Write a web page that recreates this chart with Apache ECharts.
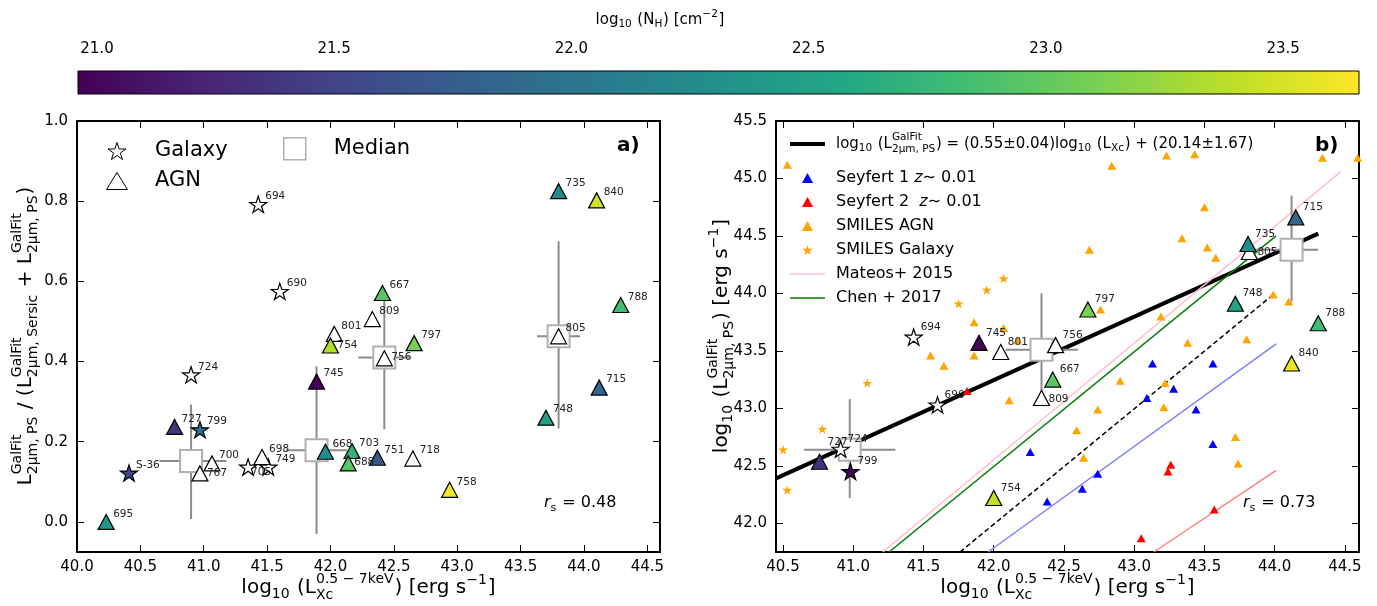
<!DOCTYPE html>
<html>
<head>
<meta charset="utf-8">
<script src="https://cdn.jsdelivr.net/npm/echarts@6/dist/echarts.min.js"></script>
<style>
  html, body { margin: 0; padding: 0; background: #fff; }
  #chart { width: 1377px; height: 606px; }
</style>
</head>
<body>
<div id="chart"></div>
<script>
// ---------- data ----------
// panel a): [log Lx, PS fraction, (log NH), id]
const leftGalaxyWhite = [[41.43, 0.792, '694'], [41.60, 0.575, '690'], [40.90, 0.367, '724'], [41.35, 0.137, '705'], [41.51, 0.137, '749']]
const leftGalaxyNH = [[40.41, 0.122, 21.55, 'S-36'], [40.97, 0.230, 21.95, '799']]
const leftAgnWhite = [[41.46, 0.162, '698'], [41.065, 0.146, '700'], [40.97, 0.121, '767'], [42.03, 0.469, '801'],
  [42.33, 0.506, '809'], [42.425, 0.408, '756'], [43.80, 0.463, '805'], [42.65, 0.158, '718']]
const leftAgnNH = [[40.23, 0.0, 22.4, '695'], [40.77, 0.237, 21.35, '727'], [41.89, 0.350, 20.98, '745'],
  [42.0, 0.44, 23.35, '754'], [41.96, 0.175, 22.3, '668'], [42.17, 0.177, 22.7, '703'], [42.14, 0.146, 22.95, '688'],
  [42.37, 0.160, 21.7, '751'], [42.41, 0.571, 22.95, '667'], [42.66, 0.446, 23.1, '797'], [42.94, 0.08, 23.62, '758'],
  [43.70, 0.26, 22.5, '748'], [44.12, 0.335, 21.85, '715'], [43.80, 0.825, 22.25, '735'], [44.10, 0.802, 23.48, '840'],
  [44.29, 0.541, 22.82, '788']]
// medians: [x, y, xlow, xhigh, ylow, yhigh]
const leftMedians = [[40.90, 0.152, 40.65, 41.18, 0.007, 0.293], [41.89, 0.179, 41.65, 42.13, -0.03, 0.388],
  [42.425, 0.41, 42.22, 42.63, 0.231, 0.574], [43.80, 0.463, 43.63, 43.97, 0.233, 0.70]]

// panel b): [log Lx, log L2um PS, (log NH), id]
const rightGalaxyWhite = [[41.43, 43.62, '694'], [41.60, 43.03, '690'], [40.91, 42.645, '724']]
const rightGalaxyNH = [[40.98, 42.45, 21.0, '799']]
const rightAgnWhite = [[42.05, 43.49, '801'], [42.44, 43.55, '756'], [42.34, 43.09, '809'], [43.82, 44.36, '805']]
const rightAgnNH = [[40.76, 42.535, 21.35, '727'], [41.895, 43.57, 20.98, '745'], [42.0, 42.22, 23.4, '754'],
  [42.42, 43.25, 22.95, '667'], [42.67, 43.86, 23.12, '797'], [43.72, 43.91, 22.5, '748'], [43.81, 44.43, 22.28, '735'],
  [44.15, 44.66, 21.85, '715'], [44.31, 43.74, 22.82, '788'], [44.12, 43.39, 23.58, '840']]
const rightMedians = [[40.975, 42.64, 40.65, 41.30, 42.22, 43.08], [42.34, 43.51, 42.085, 42.60, 43.10, 44.0],
  [44.12, 44.38, 43.85, 44.31, 43.93, 44.85]]

const seyfert1 = [[42.26, 42.62], [43.13, 43.39], [43.56, 43.39], [43.28, 43.17], [43.09, 43.09], [43.44, 42.99],
  [43.56, 42.69], [42.74, 42.43], [42.63, 42.30], [42.38, 42.19]]
const seyfert2 = [[41.81, 43.15], [43.26, 42.51], [43.24, 42.45], [43.57, 42.12], [43.05, 41.87]]
const smilesAgn = [[40.53, 45.12], [41.86, 43.75], [42.07, 43.70], [41.55, 43.46], [41.86, 43.46], [41.645, 43.37],
  [42.17, 43.59], [42.11, 43.07], [42.84, 45.11], [43.23, 45.20], [43.43, 45.21], [44.34, 45.18], [44.59, 45.18],
  [43.50, 44.75], [43.34, 44.48], [43.52, 44.40], [43.58, 44.31], [42.68, 44.38], [42.76, 43.86], [43.99, 43.99],
  [44.10, 43.93], [43.19, 43.80], [43.38, 43.57], [43.80, 43.60], [42.90, 43.24], [43.22, 43.22], [42.74, 42.99],
  [43.21, 43.01], [42.59, 42.81], [42.64, 42.57], [43.72, 42.75], [43.74, 42.52]]
const smilesGalaxy = [[41.75, 43.91], [41.95, 44.03], [42.07, 44.13], [41.10, 43.22], [40.78, 42.82], [40.50, 42.64], [40.53, 42.29]]

// relations drawn in panel b) (end points)
const fitLine = [[40.45, 42.39], [44.31, 44.52]]
const mateosLine = [[41.21, 41.75], [44.47, 45.06]]
const chenLine = [[41.255, 41.75], [44.01, 44.50]]
const dashedLine = [[41.76, 41.75], [43.98, 43.98]]
const blueLine = [[41.96, 41.75], [44.01, 43.56]]
const redLine = [[43.14, 41.75], [44.01, 42.46]]

// tick labels
const xTicks = [40.0, 40.5, 41.0, 41.5, 42.0, 42.5, 43.0, 43.5, 44.0, 44.5]
const xTicksRight = [40.5, 41.0, 41.5, 42.0, 42.5, 43.0, 43.5, 44.0, 44.5]
const yTicksLeft = [0.0, 0.2, 0.4, 0.6, 0.8, 1.0]
const yTicksRight = [42.0, 42.5, 43.0, 43.5, 44.0, 44.5, 45.0, 45.5]
const nhTicks = [21.0, 21.5, 22.0, 22.5, 23.0, 23.5]

const viridis = ['#440154', '#482475', '#414487', '#355f8d', '#2a788e', '#21918c', '#22a884', '#44bf70', '#7ad151', '#bddf26', '#fde725']
const NH_MIN = 20.96, NH_MAX = 23.66

// label tweaks where the id sits somewhere other than upper right
const labelNudge = {
  L756: [7, -1], L754: [7, 0], L767: [7, 0], L705: [3, 5], L688: [6, -1],
  R809: [7, 1], R805: [8, 0], R727: [8, -20]
}

const FONT = 'DejaVu Sans'
const STAR = 'path://M0,-1L0.2245,-0.309L0.951,-0.309L0.363,0.118L0.588,0.809L0,0.382L-0.588,0.809L-0.363,0.118L-0.951,-0.309L-0.2245,-0.309Z'
// legend glyphs (paths keep their aspect inside the legend box)
const TRI_BIG = 'path://M0,13L8,0L16,13Z'
const TRI_SMALL = 'path://M0,9L5,0L10,9Z'
const SQUARE = 'path://M0,0L10,0L10,10L0,10Z'
const THICK_LINE = 'path://M0,0L35,0L35,4L0,4Z'
const THIN_LINE = 'path://M0,0L35,0L35,1.5L0,1.5Z'

// ---------- text helpers (mathtext-like sub/superscripts) ----------
const measureCtx = document.createElement('canvas').getContext('2d')
function measure(s, size, style) {
  measureCtx.font = (style || 'normal') + ' ' + size + 'px "' + FONT + '"'
  return measureCtx.measureText(s).width
}
function piece(s, x, y, size, style, weight) {
  return {
    type: 'text', x: x, y: y,
    style: { text: s, fontSize: size, fontFamily: FONT, fontStyle: style || 'normal', fontWeight: weight || 'normal',
      fill: '#000', align: 'left', verticalAlign: 'middle' }
  }
}
function mathText(parts, size, x, y, opts) {
  opts = opts || {}
  const small = size * 0.7
  const kids = []
  let cx = 0
  parts.forEach(p => {
    if (typeof p === 'string') {
      kids.push(piece(p, cx, 0, size, 'normal', opts.weight))
      cx += measure(p, size, opts.weight)
      return
    }
    if (p.it) {
      kids.push(piece(p.it, cx, 0, size, 'italic'))
      cx += measure(p.it, size, 'italic')
      return
    }
    const both = p.sup && p.sub
    let w = 0
    if (p.sup) {
      kids.push(piece(p.sup, cx, -size * (both ? 0.42 : 0.36), small))
      w = Math.max(w, measure(p.sup, small))
    }
    if (p.sub) {
      kids.push(piece(p.sub, cx, size * (both ? 0.36 : 0.3), small))
      w = Math.max(w, measure(p.sub, small))
    }
    cx += w + size * 0.05
  })
  if (opts.anchor !== 'left') kids.forEach(k => { k.x -= cx / 2 })
  return { type: 'group', x: x, y: y, rotation: opts.rotation || 0, children: kids, z: 100 }
}

// ---------- series builders ----------
function items(rows, hasNH, panel) {
  return rows.map(r => {
    const id = r[r.length - 1]
    const it = { name: id, value: hasNH ? [r[0], r[1], r[2]] : [r[0], r[1]] }
    const nudge = labelNudge[panel + id]
    if (nudge) it.label = { offset: nudge }
    return it
  })
}
function marks(name, rows, panel, symbol, size, fill, hasNH) {
  const ax = panel === 'L' ? 0 : 2
  return {
    type: 'scatter', name: name, xAxisIndex: ax, yAxisIndex: ax,
    data: items(rows, hasNH, panel),
    symbol: symbol, symbolSize: size, symbolKeepAspect: symbol === STAR,
    itemStyle: Object.assign({ borderColor: '#000', borderWidth: 1.2, opacity: 1 }, fill ? { color: fill } : {}),
    label: {
      show: true, formatter: '{b}', position: 'inside', align: 'left', verticalAlign: 'middle',
      offset: panel === 'L' ? [7, -8] : [7, -10], fontSize: 10.5, fontFamily: FONT, color: '#222', textBorderWidth: 0
    },
    emphasis: { disabled: true }, z: 5
  }
}
function errorBars(rows, ax) {
  return {
    type: 'custom', xAxisIndex: ax, yAxisIndex: ax, data: rows, z: 3, silent: true,
    encode: { x: [0, 2, 3], y: [1, 4, 5] },
    renderItem: (params, api) => {
      const a = api.coord([api.value(2), api.value(1)])
      const b = api.coord([api.value(3), api.value(1)])
      const c = api.coord([api.value(0), api.value(4)])
      const d = api.coord([api.value(0), api.value(5)])
      const st = { stroke: '#8c8c8c', lineWidth: 2 }
      return {
        type: 'group', children: [
          { type: 'line', shape: { x1: a[0], y1: a[1], x2: b[0], y2: b[1] }, style: st },
          { type: 'line', shape: { x1: c[0], y1: c[1], x2: d[0], y2: d[1] }, style: st }
        ]
      }
    }
  }
}
function medians(rows, ax) {
  return {
    type: 'scatter', name: 'Median', xAxisIndex: ax, yAxisIndex: ax,
    data: rows.map(r => [r[0], r[1]]), symbol: 'rect', symbolSize: 22,
    itemStyle: { color: '#fff', borderColor: '#b0b0b0', borderWidth: 2, opacity: 1 },
    emphasis: { disabled: true }, z: 4
  }
}
function small(name, rows, symbol, size, color) {
  return {
    type: 'scatter', name: name, xAxisIndex: 2, yAxisIndex: 2, data: rows,
    symbol: symbol, symbolSize: size, symbolKeepAspect: symbol === STAR,
    itemStyle: { color: color, opacity: 1 }, emphasis: { disabled: true }, z: 3
  }
}
function line(name, pts, color, width, type) {
  return {
    type: 'line', name: name, xAxisIndex: 2, yAxisIndex: 2, data: pts, symbol: 'none',
    lineStyle: { color: color, width: width, type: type || 'solid' }, itemStyle: { color: color },
    emphasis: { disabled: true }, z: 2, silent: true
  }
}

const series = []
series.push(errorBars(leftMedians, 0))
series.push(medians(leftMedians, 0))
series.push(marks('Galaxy', leftGalaxyWhite, 'L', STAR, 17, '#fff', false))
series.push(marks('AGN', leftAgnWhite, 'L', 'triangle', [16, 15], '#fff', false))
const colored = []
colored.push(series.push(marks('Galaxy NH', leftGalaxyNH, 'L', STAR, 17, null, true)) - 1)
colored.push(series.push(marks('AGN NH', leftAgnNH, 'L', 'triangle', [16, 15], null, true)) - 1)

series.push(line('fit', fitLine, '#000', 4))
series.push(line('Mateos+ 2015', mateosLine, '#ffc0cb', 1.5))
series.push(line('Chen + 2017', chenLine, '#008000', 1.5))
series.push(line('ratio', dashedLine, '#000', 1.5, [5, 3]))
series.push(line('sey1 rel', blueLine, '#8080ff', 1.5))
series.push(line('sey2 rel', redLine, '#ff8080', 1.5))
series.push(small('SMILES AGN', smilesAgn, 'triangle', [9, 8], '#ffa500'))
series.push(small('SMILES Galaxy', smilesGalaxy, STAR, 10, '#ffa500'))
series.push(small('Seyfert 1', seyfert1, 'triangle', [9, 8], '#0000ff'))
series.push(small('Seyfert 2', seyfert2, 'triangle', [9, 8], '#ff0000'))
series.push(errorBars(rightMedians, 2))
series.push(medians(rightMedians, 2))
series.push(marks('Galaxy', rightGalaxyWhite, 'R', STAR, 17, '#fff', false))
series.push(marks('AGN', rightAgnWhite, 'R', 'triangle', [16, 15], '#fff', false))
colored.push(series.push(marks('Galaxy NH', rightGalaxyNH, 'R', STAR, 17, null, true)) - 1)
colored.push(series.push(marks('AGN NH', rightAgnNH, 'R', 'triangle', [16, 15], null, true)) - 1)

// ---------- axes ----------
const fmt1 = v => v.toFixed(1)
function axis(kind, grid, min, max, ticks, position, labels) {
  return {
    type: 'value', gridIndex: grid, position: position, min: min, max: max,
    axisLine: { show: true, onZero: false, lineStyle: { color: '#000', width: 2 } },
    axisTick: { show: true, inside: true, length: 7, lineStyle: { color: '#000', width: 1 }, customValues: ticks },
    axisLabel: {
      show: labels, customValues: ticks, formatter: fmt1, fontSize: 15, fontFamily: FONT, color: '#000',
      margin: kind === 'x' ? 8 : 9
    },
    splitLine: { show: false }
  }
}

const xAxes = [
  axis('x', 0, 40.0, 44.6, xTicks, 'bottom', true),
  axis('x', 0, 40.0, 44.6, xTicks, 'top', false),
  axis('x', 1, 40.45, 44.6, xTicksRight, 'bottom', true),
  axis('x', 1, 40.45, 44.6, xTicksRight, 'top', false),
  {
    type: 'value', gridIndex: 2, position: 'top', min: NH_MIN, max: NH_MAX,
    axisLine: { show: false },
    axisTick: { show: true, inside: false, length: 4, lineStyle: { color: '#000' }, customValues: nhTicks },
    axisLabel: { customValues: nhTicks, formatter: fmt1, fontSize: 15, fontFamily: FONT, color: '#000', margin: 14 },
    splitLine: { show: false }
  }
]
const yAxes = [
  axis('y', 0, -0.075, 1.0, yTicksLeft, 'left', true),
  axis('y', 0, -0.075, 1.0, yTicksLeft, 'right', false),
  axis('y', 1, 41.75, 45.5, yTicksRight, 'left', true),
  axis('y', 1, 41.75, 45.5, yTicksRight, 'right', false),
  { type: 'value', gridIndex: 2, min: 0, max: 1, show: false }
]

// ---------- legends ----------
const legendText = (size, pad) => ({ fontSize: size, fontFamily: FONT, color: '#000', padding: [0, 0, 0, pad] })
const legends = [
  {
    left: 106, top: 140, orient: 'vertical', itemWidth: 26, itemHeight: 17, itemGap: 8, padding: 0,
    selectedMode: false, textStyle: Object.assign(legendText(21, 20), { lineHeight: 22 }),
    data: [
      { name: 'Galaxy', icon: STAR, itemStyle: { color: '#fff', borderColor: '#000', borderWidth: 1 } },
      { name: 'AGN', icon: TRI_BIG, itemStyle: { color: '#fff', borderColor: '#000', borderWidth: 1 } }
    ]
  },
  {
    left: 283, top: 137, itemWidth: 26, itemHeight: 22, padding: 0, selectedMode: false,
    textStyle: legendText(21, 21),
    data: [{ name: 'Median', icon: SQUARE, itemStyle: { color: '#fff', borderColor: '#b0b0b0', borderWidth: 1.5 } }]
  },
  {
    left: 790, top: 138, itemWidth: 35, itemHeight: 14, padding: 0, selectedMode: false,
    formatter: () => ' ', data: [{ name: 'fit', icon: THICK_LINE }]
  },
  {
    left: 790, top: 169, orient: 'vertical', itemWidth: 35, itemHeight: 10, itemGap: 6, padding: 0,
    selectedMode: false,
    textStyle: Object.assign(legendText(16, 6), { lineHeight: 18, rich: { i: { fontStyle: 'italic', fontSize: 16, fontFamily: FONT } } }),
    formatter: n => ({
      'Seyfert 1': 'Seyfert 1 {i|z}∼ 0.01',
      'Seyfert 2': 'Seyfert 2  {i|z}∼ 0.01'
    }[n] || n),
    data: [
      { name: 'Seyfert 1', icon: TRI_SMALL },
      { name: 'Seyfert 2', icon: TRI_SMALL },
      { name: 'SMILES AGN', icon: TRI_SMALL },
      { name: 'SMILES Galaxy', icon: STAR },
      { name: 'Mateos+ 2015', icon: THIN_LINE },
      { name: 'Chen + 2017', icon: THIN_LINE }
    ]
  }
]

// ---------- loose text and the colour bar ----------
const graphics = [
  {
    type: 'rect', shape: { x: 78, y: 71, width: 1281, height: 23 }, z: 1,
    style: {
      fill: { type: 'linear', x: 0, y: 0, x2: 1, y2: 0,
        colorStops: viridis.map((c, i) => ({ offset: i / (viridis.length - 1), color: c })) },
      stroke: '#000', lineWidth: 1
    }
  },
  mathText(['log', { sub: '10' }, ' (N', { sub: 'H' }, ') [cm', { sup: '−2' }, ']'], 15, 660, 20),
  mathText(['log', { sub: '10' }, ' (L', { sup: '0.5 − 7keV', sub: 'Xc' }, ') [erg s', { sup: '−1' }, ']'], 20, 368.5, 588),
  mathText(['log', { sub: '10' }, ' (L', { sup: '0.5 − 7keV', sub: 'Xc' }, ') [erg s', { sup: '−1' }, ']'], 20, 1067.5, 588),
  mathText(['L', { sup: 'GalFit', sub: '2µm, PS' }, ' / (L', { sup: 'GalFit', sub: '2µm, Sersic' }, ' + L',
    { sup: 'GalFit', sub: '2µm, PS' }, ')'], 20, 26, 336, { rotation: Math.PI / 2 }),
  mathText(['log', { sub: '10' }, ' (L', { sup: 'GalFit', sub: '2µm, PS' }, ') [erg s', { sup: '−1' }, ']'], 20, 722, 336,
    { rotation: Math.PI / 2 }),
  mathText(['log', { sub: '10' }, ' (L', { sup: 'GalFit', sub: '2µm, PS' }, ') = (0.55±0.04)log', { sub: '10' }, ' (L',
    { sub: 'Xc' }, ') + (20.14±1.67)'], 15, 836, 144, { anchor: 'left' }),
  mathText([{ it: 'r' }, { sub: 's' }, ' = 0.48'], 16, 544, 503, { anchor: 'left' }),
  mathText([{ it: 'r' }, { sub: 's' }, ' = 0.73'], 16, 1243, 503, { anchor: 'left' }),
  mathText(['a)'], 20, 617, 146, { anchor: 'left', weight: 'bold' }),
  mathText(['b)'], 20, 1315, 146, { anchor: 'left', weight: 'bold' })
]

const chart = echarts.init(document.getElementById('chart'), null, { renderer: 'canvas' })
chart.setOption({
  animation: false,
  backgroundColor: '#fff',
  textStyle: { fontFamily: FONT },
  grid: [
    { left: 77, top: 121, width: 583, height: 431 },
    { left: 776, top: 121, width: 583, height: 431 },
    { left: 78, top: 71, width: 1281, height: 23 }
  ],
  xAxis: xAxes,
  yAxis: yAxes,
  visualMap: {
    show: false, type: 'continuous', min: NH_MIN, max: NH_MAX, dimension: 2,
    seriesIndex: colored, inRange: { color: viridis }
  },
  legend: legends,
  graphic: graphics,
  series: series
})
</script>
</body>
</html>
